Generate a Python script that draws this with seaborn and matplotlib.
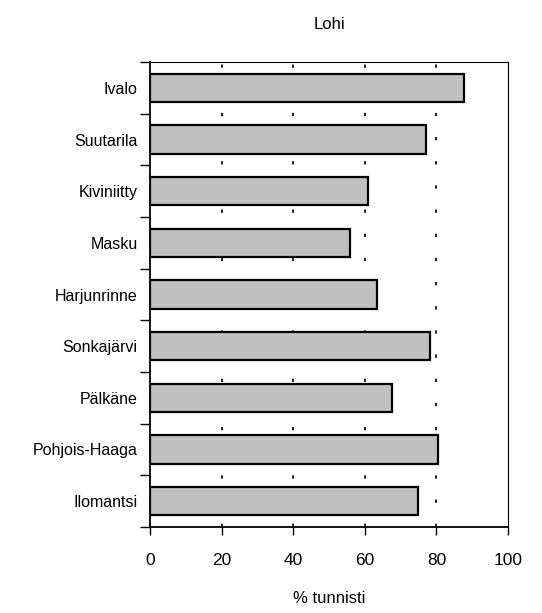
"""
    Lohi - % tunnisti
"""
import pandas as pd
import matplotlib.pyplot as plt
import seaborn as sns
import numpy as np

# Datos
paikat = ['Ivalo', 'Suutarila', 'Kiviniitty', 'Masku', 'Harjunrinne',
          'Sonkajärvi', 'Pälkäne', 'Pohjois-Haaga', 'Ilomantsi']
tunnisti = [87.7, 77.2, 60.9, 55.8, 63.3, 78.3, 67.6, 80.5, 74.9]
x_ticks = [0, 20, 40, 60, 80, 100]

df = pd.DataFrame({'paikka': paikat, 'tunnisti': tunnisti})

sns.set_style('white')
plt.rcParams['font.family'] = ['Liberation Sans Narrow', 'Liberation Sans', 'DejaVu Sans']
plt.rcParams['text.color'] = 'black'
plt.rcParams['xtick.color'] = 'black'
plt.rcParams['ytick.color'] = 'black'
plt.rcParams['axes.labelcolor'] = 'black'

fig = plt.figure(figsize=(5.42, 6.13), dpi=100)
ax = fig.add_axes([150 / 542, 1 - 527 / 613, 358 / 542, 465 / 613])

sns.barplot(data=df, x='tunnisti', y='paikka', orient='h', color='#c0c0c0',
            edgecolor='black', linewidth=1.6, width=0.55, saturation=1, ax=ax, zorder=3)

# Lineas de rejilla punteadas
for v in x_ticks[1:-1]:
    ax.axvline(v, color='black', linewidth=1.2, linestyle=(0, (2, 12.5)), zorder=1)

ax.set_xlim(0, 100)
ax.set_ylim(len(paikat) - 0.5, -0.5)
ax.set_xticks(x_ticks)
ax.set_xticklabels([str(t) for t in x_ticks], fontsize=12.5)
ax.tick_params(axis='x', length=6, width=1, pad=13, direction='out', bottom=True)

# Marcas del eje y entre categorias
ax.set_yticks(np.arange(len(paikat)))
ax.set_yticklabels(paikat, fontsize=11.5)
ax.set_yticks(np.arange(-0.5, len(paikat)), minor=True)
ax.tick_params(axis='y', which='major', length=0, pad=9)
ax.tick_params(axis='y', which='minor', length=7, width=1, left=True, direction='out')

for s in ['left', 'bottom']:
    ax.spines[s].set_color('black')
    ax.spines[s].set_linewidth(1.3)
for s in ['top', 'right']:
    ax.spines[s].set_color('black')
    ax.spines[s].set_linewidth(0.8)

ax.set_xlabel('% tunnisti', fontsize=12, labelpad=16)
ax.set_ylabel('')
ax.set_title('Lohi', fontsize=12, pad=24)

plt.savefig('out.png', dpi=100)
